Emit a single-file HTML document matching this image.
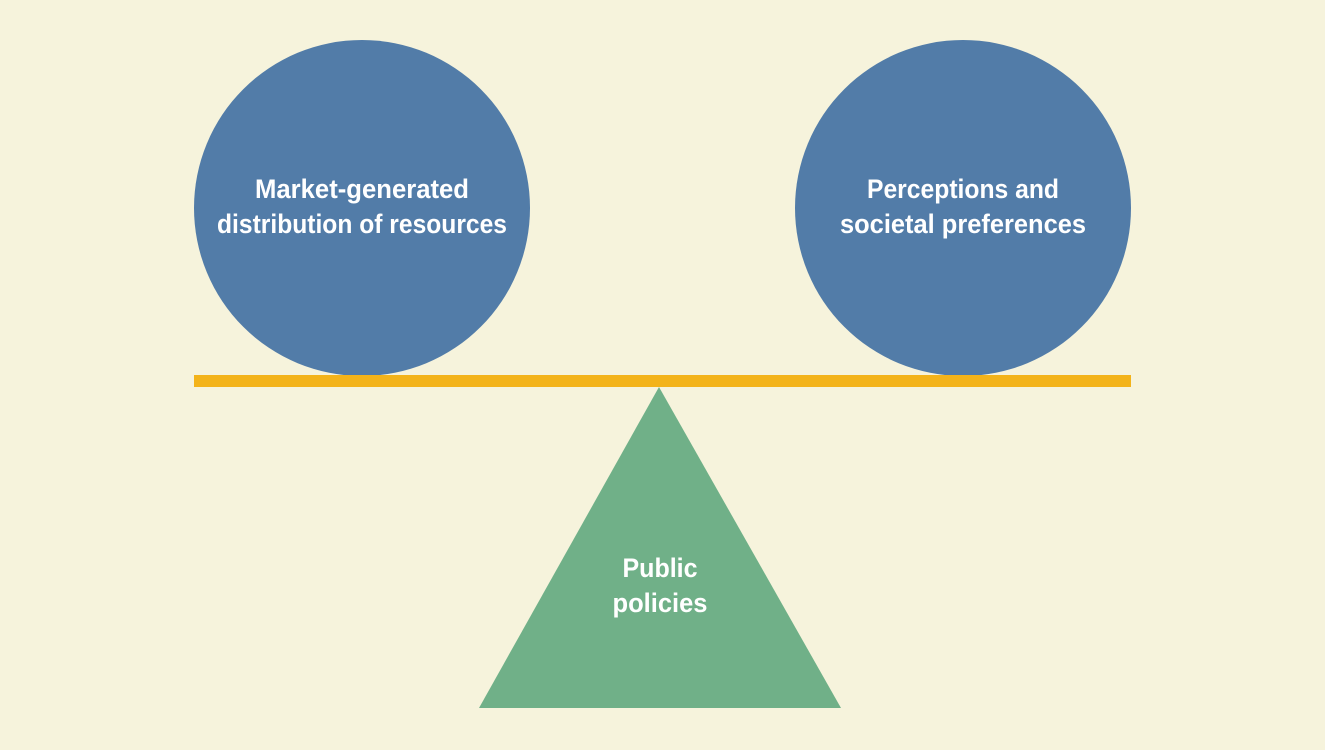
<!DOCTYPE html>
<html><head><meta charset="utf-8"><style>
html,body{margin:0;padding:0;background:#f6f3dc;}
svg{display:block}
text{font-family:"Liberation Sans Narrow","Liberation Sans",sans-serif;font-weight:bold;fill:#fff;font-size:27px;text-anchor:middle}
</style></head><body>
<svg width="1325" height="750" viewBox="0 0 1325 750">
<rect width="1325" height="750" fill="#f6f3dc"/>
<circle cx="362" cy="208" r="168" fill="#527ca8"/>
<circle cx="963" cy="208" r="168" fill="#527ca8"/>
<rect x="194" y="375" width="937" height="12" fill="#f3b31a"/>
<polygon points="659,387 841,708 479,708" fill="#70b088"/>
<text x="362" y="198" textLength="214" lengthAdjust="spacingAndGlyphs">Market-generated</text>
<text x="362" y="233" textLength="290" lengthAdjust="spacingAndGlyphs">distribution of resources</text>
<text x="963" y="198" textLength="192" lengthAdjust="spacingAndGlyphs">Perceptions and</text>
<text x="963" y="233" textLength="246" lengthAdjust="spacingAndGlyphs">societal preferences</text>
<text x="660" y="577" textLength="75" lengthAdjust="spacingAndGlyphs">Public</text>
<text x="660" y="612" textLength="95" lengthAdjust="spacingAndGlyphs">policies</text>
</svg>
</body></html>
